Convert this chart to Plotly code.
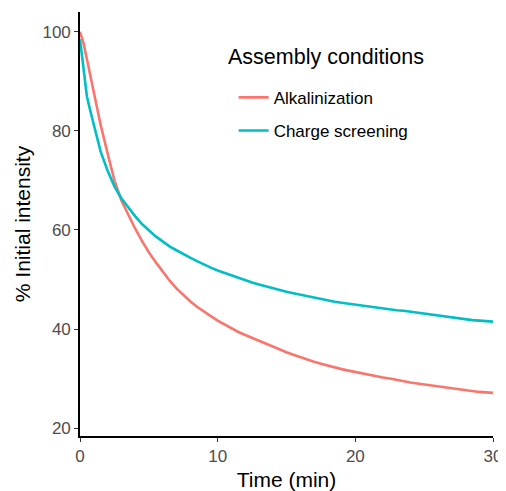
import plotly.graph_objects as go

# time in minutes
time = [0, 0.25, 0.5, 0.75, 1.0, 1.5, 2.0, 2.5, 3.0, 3.5, 4.0, 4.5, 5.0, 5.5, 6.0, 6.5,
        7.0, 7.5, 8.0, 8.5, 9.0, 9.5, 10, 10.5, 11, 11.5, 12, 12.5, 13, 13.5, 14, 14.5,
        15, 15.5, 16, 16.5, 17, 17.5, 18, 18.5, 19, 19.5, 20, 20.5, 21, 21.5, 22, 22.5,
        23, 23.5, 24, 24.5, 25, 25.5, 26, 26.5, 27, 27.5, 28, 28.5, 29, 29.5, 30]

alkalinization = [100, 97.8, 94.5, 91.0, 87.6, 81.2, 75.5, 70.0, 66.0, 63.1, 60.3, 57.8,
                  55.5, 53.5, 51.6, 49.8, 48.2, 46.8, 45.6, 44.5, 43.5, 42.6, 41.7, 40.9,
                  40.1, 39.4, 38.8, 38.2, 37.6, 37.0, 36.4, 35.9, 35.3, 34.8, 34.3, 33.9,
                  33.4, 33.0, 32.6, 32.2, 31.9, 31.6, 31.3, 31.0, 30.7, 30.4, 30.2, 30.0,
                  29.7, 29.5, 29.2, 29.0, 28.8, 28.6, 28.4, 28.2, 28.0, 27.8, 27.6, 27.4,
                  27.3, 27.2, 27.1]

charge_screening = [98.5, 92.3, 87.0, 84.0, 81.3, 75.8, 72.0, 68.8, 66.4, 64.5, 62.8, 61.2,
                    59.9, 58.7, 57.7, 56.7, 55.9, 55.1, 54.4, 53.7, 53.0, 52.4, 51.8, 51.3,
                    50.8, 50.3, 49.8, 49.4, 49.0, 48.6, 48.2, 47.9, 47.5, 47.2, 46.9, 46.6,
                    46.3, 46.0, 45.7, 45.5, 45.3, 45.1, 44.9, 44.7, 44.5, 44.3, 44.2, 44.0,
                    43.8, 43.7, 43.5, 43.3, 43.1, 42.9, 42.7, 42.5, 42.3, 42.1, 41.9, 41.8,
                    41.7, 41.6, 41.5]

fig = go.Figure()
fig.add_trace(go.Scatter(x=time, y=alkalinization, mode="lines", name="Alkalinization",
                         legendgroup="a", line=dict(color="#F8766D", width=2.6)))
fig.add_trace(go.Scatter(x=time, y=charge_screening, mode="lines", name="Charge screening",
                         legendgroup="b", line=dict(color="#00BFC4", width=2.6)))

axis_common = dict(
    showline=True, linecolor="black", linewidth=1.6,
    ticks="outside", ticklen=4, tickwidth=1.3, tickcolor="#333333",
    tickfont=dict(size=17, color="#4d4d4d"),
    showgrid=False, zeroline=False, mirror=False, automargin=False,
)

# page body has an 8px margin, so the figure is a bit smaller than the window
fig.update_layout(
    width=498, height=483,
    margin=dict(l=72, r=13, t=4, b=55),
    paper_bgcolor="white", plot_bgcolor="white",
    font=dict(family="Liberation Sans, Arial, sans-serif", color="black"),
    xaxis=dict(range=[0, 30], tickvals=[0, 10, 20, 30],
               title=dict(text="Time (min)", font=dict(size=21)),
               **axis_common),
    yaxis=dict(range=[18.4, 104.0], tickvals=[20, 40, 60, 80, 100],
               title=dict(text="% Initial intensity", font=dict(size=21), standoff=6),
               **axis_common),
    showlegend=True,
    legend=dict(
        x=0.372, y=0.84, xanchor="left", yanchor="top",
        font=dict(size=17), bgcolor="rgba(0,0,0,0)",
        tracegroupgap=8, itemwidth=30,
    ),
    annotations=[dict(
        text="Assembly conditions", xref="paper", yref="paper",
        x=0.354, y=0.894, xanchor="left", yanchor="middle",
        showarrow=False, font=dict(size=21.5),
    )],
)

fig.write_html("out.html")
